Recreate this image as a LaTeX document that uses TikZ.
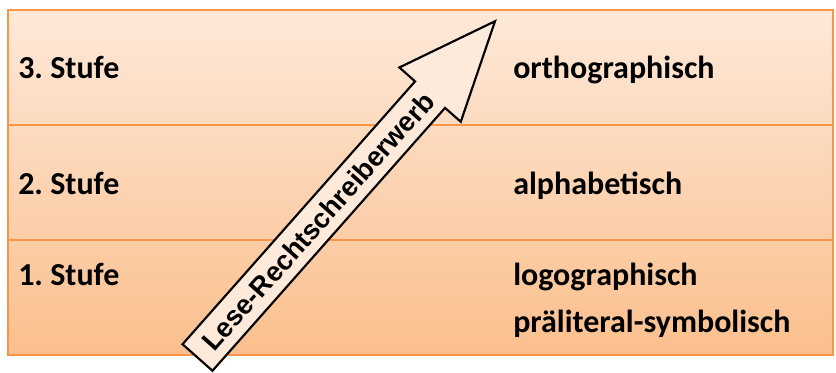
\documentclass[tikz,border=0pt]{standalone}
\usepackage{fontspec}
\setmainfont{Carlito}
\newfontfamily\arialfont{Liberation Sans}
\frenchspacing
\definecolor{boxtop}{RGB}{253,233,217}
\definecolor{boxbot}{RGB}{251,191,141}
\definecolor{rim}{RGB}{247,150,70}
\definecolor{arrowfill}{RGB}{253,234,219}
\tikzset{
  lbl/.style={anchor=base west, inner sep=0pt, font=\fontsize{24}{28}\selectfont\bfseries},
  rimline/.style={draw=rim, line width=1.5pt},
  bigarrow/.style={draw=black, fill=arrowfill, line width=1.6pt, line join=miter},
  arrowtext/.style={font=\arialfont\fontsize{20.5}{24}\selectfont\bfseries, inner sep=0pt}
}
\begin{document}
\begin{tikzpicture}[x=0.75pt, y=0.75pt]
\useasboundingbox (0,0) rectangle (836,372);
% background box with gradient
\shade[top color=boxtop, bottom color=boxbot] (8,17) rectangle (833,362);
\draw[rimline] (8,247) -- (833,247);
\draw[rimline] (8,132) -- (833,132);
\draw[rimline] (8,17) rectangle (833,362);
% labels
\node[lbl] (s3) at (18,293) {3. Stufe};
\node[lbl] (s2) at (18,177) {2. Stufe};
\node[lbl] (s1) at (18,87) {1. Stufe};
\node[lbl] (orth) at (513,293) {orthographisch};
\node[lbl] (alph) at (513,177) {alphabetisch};
\node[lbl] (logo) at (513,87) {logographisch};
\node[lbl] (prae) at (513,40) {präliteral-symbolisch};
% big arrow
\begin{scope}[shift={(197.5,14.5)}, rotate=48.5, transform shape]
  \draw[bigarrow] (0,-20) -- (351,-20) -- (351,-41) -- (449,0) -- (351,41) -- (351,20) -- (0,20) -- cycle;
  \node[arrowtext] (lrw) at (182,0) {Lese-Rechtschreiberwerb};
\end{scope}
\end{tikzpicture}
\end{document}
